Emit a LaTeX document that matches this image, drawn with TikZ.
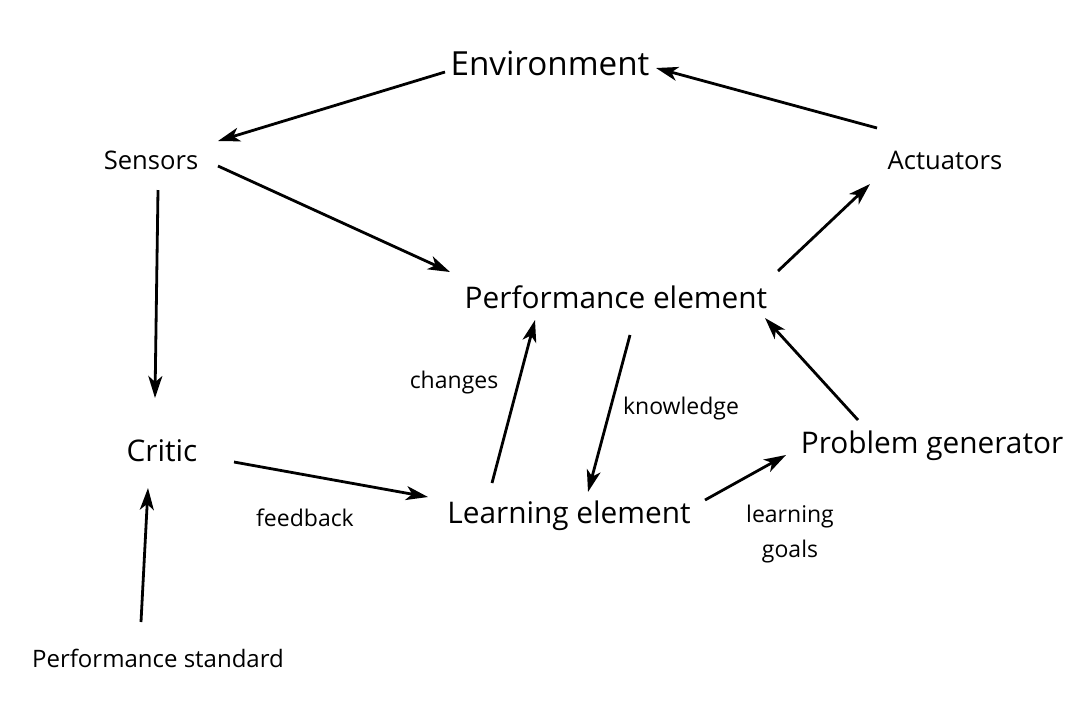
\documentclass[tikz,border=0pt]{standalone}
\usepackage{fontspec}
\setmainfont{Open Sans}
\usetikzlibrary{arrows.meta}
\begin{document}
\begin{tikzpicture}[x=0.5pt,y=-0.5pt,
  big/.style={inner sep=0pt,font=\fontsize{16.6}{19}\selectfont},
  mid/.style={inner sep=0pt,font=\fontsize{14.9}{17}\selectfont},
  small/.style={inner sep=0pt,font=\fontsize{12.8}{15}\selectfont},
  lab/.style={inner sep=0pt,font=\fontsize{11.5}{17.5}\selectfont,align=center},
  arr/.style={line width=1.4pt,-{Stealth[length=11pt,width=7pt,inset=3pt]}}]
\useasboundingbox (0,0) rectangle (1080,720);
\node[big] (env) at (550,63) {Environment};
\node[small] (sens) at (151,160) {Sensors};
\node[small] (act) at (945,160) {Actuators};
\node[mid] (perf) at (616,297) {Performance element};
\node[mid] (critic) at (162,451) {Critic};
\node[mid] (learn) at (569,516) {Learning element};
\node[mid] (prob) at (932,446) {Problem generator};
\node[small,font=\fontsize{12}{15}\selectfont] (std) at (158,658) {Performance standard};
\node[lab] (lchg) at (454,383) {changes};
\node[lab] (lknow) at (681,409) {knowledge};
\node[lab] (lfb) at (305,518) {feedback};
\node[lab] (lgoal) at (790,534) {learning\\goals};
\coordinate (a1s) at (877,128); \coordinate (a1e) at (656,68);
\coordinate (a2s) at (445,72); \coordinate (a2e) at (218,141);
\coordinate (a3s) at (218,166); \coordinate (a3e) at (450,272);
\coordinate (a4s) at (158,190); \coordinate (a4e) at (155,398);
\coordinate (a5s) at (778,271); \coordinate (a5e) at (870,184);
\coordinate (a6s) at (858,420); \coordinate (a6e) at (765,318);
\coordinate (a7s) at (234,462); \coordinate (a7e) at (428,497);
\coordinate (a8s) at (141,622); \coordinate (a8e) at (148,488);
\coordinate (a9s) at (492,483); \coordinate (a9e) at (535,320);
\coordinate (a10s) at (630,335); \coordinate (a10e) at (588,492);
\coordinate (a11s) at (705,500); \coordinate (a11e) at (786,455);
\foreach \i in {1,...,11} {\draw[arr] (a\i s) -- (a\i e);}
\end{tikzpicture}
\end{document}
